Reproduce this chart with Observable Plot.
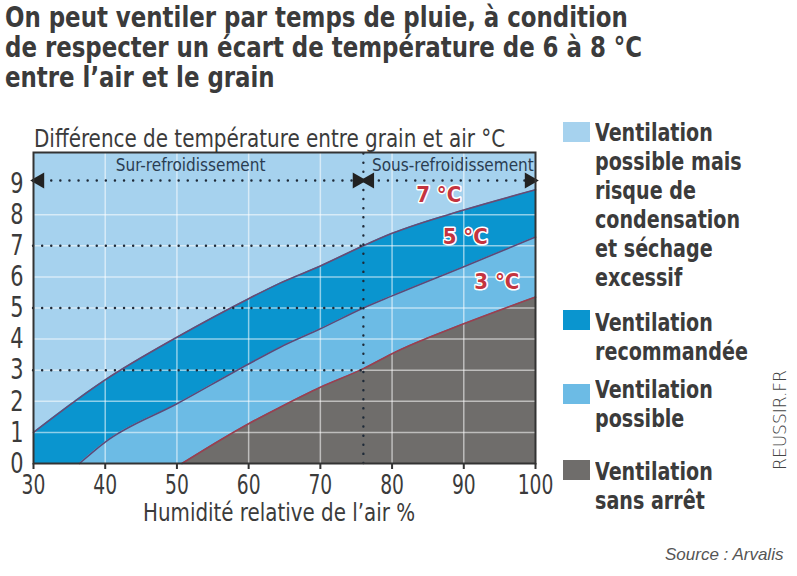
<!DOCTYPE html>
<html><head><meta charset="utf-8">
<script src="https://cdn.jsdelivr.net/npm/d3@7"></script>
<script src="https://cdn.jsdelivr.net/npm/@observablehq/plot@0.6"></script>
<style>
body{margin:0;background:#fff;width:797px;height:576px;position:relative;overflow:hidden;
 font-family:"DejaVu Sans Condensed","Liberation Sans Narrow","DejaVu Sans",sans-serif;color:#3b3b3b;}
.abs{position:absolute;white-space:nowrap;transform-origin:0 0;}
#title{left:5px;top:3px;font-size:28px;font-weight:bold;line-height:30px;}
#ytitle{left:34px;top:125px;font-size:24px;line-height:28px;}
#xtitle{left:143px;top:503px;font-size:25px;line-height:20px;}
.sw{position:absolute;width:27px;height:20px;}
.lg{position:absolute;left:595px;font-size:25px;font-weight:bold;line-height:29px;white-space:nowrap;transform-origin:0 0;}
#brand{left:780px;top:420px;font-size:17px;color:#444;transform-origin:50% 50%;transform:translate(-50%,-50%) rotate(-90deg);font-family:"DejaVu Sans","Liberation Sans",sans-serif;font-weight:300}
#source{left:665px;top:545px;font-size:17px;font-style:italic;color:#555;font-family:"Liberation Sans",sans-serif}
#chart{position:absolute;left:0;top:140px;}
</style></head>
<body>
<div id="title" class="abs">On peut ventiler par temps de pluie, à condition<br>de respecter un écart de température de 6 à 8 °C<br>entre l’air et le grain</div>
<div id="ytitle" class="abs">Différence de température entre grain et air °C</div>
<div id="chart"></div>
<div id="xtitle" class="abs">Humidité relative de l’air %</div>
<div id="legend"></div>
<div id="brand" class="abs">REUSSIR.FR</div>
<div id="source" class="abs">Source : Arvalis</div>
<script>
// ---- data ----
const hum7 = [30, 40, 50, 60, 64.4, 70, 76, 80, 90, 100];
const diff7 = [1.0, 2.69, 4.06, 5.3, 5.8, 6.35, 7.0, 7.4, 8.15, 8.8];
const hum5 = [36.4, 40, 50, 60, 64.4, 70, 76, 80, 90, 100];
const diff5 = [0, 0.69, 1.92, 3.2, 3.74, 4.33, 5.0, 5.39, 6.33, 7.28];
const hum3 = [50.7, 60, 64.4, 70, 76, 80, 90, 100];
const diff3 = [0, 1.28, 1.81, 2.45, 3.05, 3.53, 4.49, 5.35];
const xTicks = [30, 40, 50, 60, 70, 80, 90, 100];
const yTicks = [0, 1, 2, 3, 4, 5, 6, 7, 8, 9];
const refHumidity = 76;
const refDiffs = [3, 5, 7];
const arrowLevel = 9.1;
const curveLabels = ["7 °C", "5 °C", "3 °C"];
const curveLabelX = [86.5, 90.2, 94.6];
const curveLabelY = [8.62, 7.28, 5.83];
const zoneLabels = ["Sur-refroidissement", "Sous-refroidissement"];
const zoneLabelX = [51.9, 77.2];
const zoneLabelY = 9.58;
const legendItems = [
  "Ventilation\npossible mais\nrisque de\ncondensation\net séchage\nexcessif",
  "Ventilation\nrecommandée",
  "Ventilation\npossible",
  "Ventilation\nsans arrêt"
];
const colors = ["#a6d2ee", "#0a95cf", "#6cbbe5", "#6f6d6b"];

const pts = (xs, ys) => xs.map((x, i) => ({x, y: ys[i]}));
const c7 = pts(hum7, diff7), c5 = pts(hum5, diff5), c3 = pts(hum3, diff3);
const FONT = '"DejaVu Sans Condensed","Liberation Sans Narrow","DejaVu Sans",sans-serif';
const dotted = {stroke: "#1e2a38", strokeWidth: 2.4, strokeDasharray: "0.1,9", strokeLinecap: "round"};

const chart = Plot.plot({
  width: 560, height: 380,
  marginLeft: 33, marginRight: 25, marginTop: 12, marginBottom: 57,
  style: {fontFamily: FONT, color: "#3b3b3b", background: "transparent"},
  x: {domain: [30, 100], ticks: xTicks, label: null},
  y: {domain: [0, 10], ticks: yTicks, label: null},
  marks: [
    Plot.frame({fill: colors[0]}),
    Plot.areaY(c7, {x: "x", y: "y", fill: colors[1], curve: "monotone-x"}),
    Plot.areaY(c5, {x: "x", y: "y", fill: colors[2], curve: "monotone-x"}),
    Plot.areaY(c3, {x: "x", y: "y", fill: colors[3], curve: "monotone-x"}),
    Plot.ruleX(xTicks.slice(1, -1), {stroke: "#ffffff", strokeOpacity: 0.55, strokeWidth: 1.5}),
    Plot.ruleY(yTicks.slice(1, -1), {stroke: "#ffffff", strokeOpacity: 0.55, strokeWidth: 1.5}),
    Plot.line(c7, {x: "x", y: "y", stroke: "#6b4a72", strokeWidth: 1.6, curve: "monotone-x"}),
    Plot.line(c5, {x: "x", y: "y", stroke: "#5c4a78", strokeWidth: 1.6, curve: "monotone-x"}),
    Plot.line(c3, {x: "x", y: "y", stroke: "#9a3f50", strokeWidth: 1.6, curve: "monotone-x"}),
    Plot.ruleY(refDiffs, {x1: 30, x2: refHumidity, ...dotted}),
    Plot.ruleY([arrowLevel], {x1: 30, x2: 100, ...dotted}),
    Plot.ruleX([refHumidity], {y1: 0, y2: 10, ...dotted}),
    Plot.dot([30, refHumidity], {x: d => d, y: arrowLevel, symbol: "triangle", r: 6, rotate: -90, fill: "#222", dx: 6}),
    Plot.dot([refHumidity, 100], {x: d => d, y: arrowLevel, symbol: "triangle", r: 6, rotate: 90, fill: "#222", dx: -6}),
    Plot.text([zoneLabels[0]], {x: zoneLabelX[0], y: zoneLabelY, text: d => d, textAnchor: "middle", fontSize: 17, fill: "#2a3d52"}),
    Plot.text([zoneLabels[1]], {x: zoneLabelX[1], y: zoneLabelY, text: d => d, textAnchor: "start", fontSize: 17, fill: "#2a3d52"}),
    Plot.text(curveLabels, {x: (d, i) => curveLabelX[i], y: (d, i) => curveLabelY[i], text: d => d, fontSize: 22, fontWeight: "bold", fill: "#c4343f", stroke: "#ffffff", strokeWidth: 3, paintOrder: "stroke"}),
    Plot.frame({stroke: "#333", strokeWidth: 2}),
    Plot.axisX({ticks: xTicks, tickSize: 6, tickPadding: 6, fontSize: 26, stroke: "#333", strokeWidth: 2, label: null, tickFormat: d => d}),
    Plot.axisY({ticks: yTicks, tickSize: 0, tickPadding: 10, fontSize: 29, label: null, tickFormat: d => d})
  ]
});
document.getElementById("chart").appendChild(chart);
// narrow the tick digits (condensed look of the original)
d3.select(chart).selectAll('g[aria-label$="tick label"] text').each(function() {
  const t = this.getAttribute("transform") || "";
  this.setAttribute("transform", t + " scale(0.8,1)");
});

// legend (HTML)
const swTops = [122, 310, 384, 460];
const txTops = [118, 308, 375, 457];
const lg = document.getElementById("legend");
legendItems.forEach((t, i) => {
  const s = document.createElement("div");
  s.className = "sw"; s.style.left = "563px"; s.style.top = swTops[i] + "px"; s.style.background = colors[i];
  lg.appendChild(s);
  const d = document.createElement("div");
  d.className = "lg"; d.style.top = txTops[i] + "px";
  d.innerHTML = t.split("\n").join("<br>");
  lg.appendChild(d);
  d.style.transform = "scaleX(0.85)";
});

// fit text widths to the original's narrow typeface
function fit(id, w) {
  const el = document.getElementById(id);
  el.style.transform = "scaleX(" + (w / el.scrollWidth) + ")";
}
fit("title", 637);
fit("ytitle", 471);
fit("xtitle", 272);
</script>
</body></html>
